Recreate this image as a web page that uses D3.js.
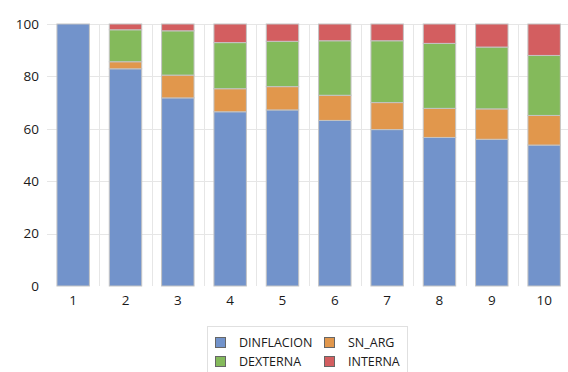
<!DOCTYPE html>
<html>
<head>
<meta charset="utf-8">
<script src="https://cdn.jsdelivr.net/npm/d3@7"></script>
<style>
  body { margin: 0; background: #fff; }
  svg { font-family: "Open Sans", sans-serif; }
</style>
</head>
<body>
<div id="chart"></div>
<script>
// data
var categories = ["1", "2", "3", "4", "5", "6", "7", "8", "9", "10"];
var dinflacion = [100, 82.9, 71.8, 66.5, 67.2, 63.2, 59.7, 56.7, 56.0, 53.8];
var snArg      = [0, 2.7, 8.7, 8.8, 8.9, 9.6, 10.3, 11.1, 11.6, 11.3];
var dexterna   = [0, 12.2, 16.9, 17.6, 17.3, 20.8, 23.6, 24.8, 23.6, 22.9];
var interna    = [0, 2.2, 2.6, 7.1, 6.6, 6.4, 6.4, 7.4, 8.8, 12.0];
var seriesNames = ["DINFLACION", "SN_ARG", "DEXTERNA", "INTERNA"];
var yTicks = [0, 20, 40, 60, 80, 100];

var colors = ["#7293cb", "#e1974c", "#84ba5b", "#d35e60"];

var W = 568, H = 372;
var svg = d3.select('#chart').append('svg')
  .attr('width', W).attr('height', H);

var margins = { top: 24, left: 47, bottom: 86 };
var step = 52.33;
var x = d3.scaleBand()
  .domain(categories)
  .range([margins.left, margins.left + step * categories.length])
  .paddingInner(0.38).paddingOuter(0.19);
var y = d3.scaleLinear().domain([0, 100]).range([H - margins.bottom, margins.top]);

// build table for stack
var table = categories.map(function (c, i) {
  return { cat: c, DINFLACION: dinflacion[i], SN_ARG: snArg[i], DEXTERNA: dexterna[i], INTERNA: interna[i] };
});
var stacked = d3.stack().keys(seriesNames)(table);

// grid
var g = svg.append('g');
g.selectAll('.hgrid').data(yTicks.slice(1)).enter().append('line')
  .attr('x1', margins.left).attr('x2', W)
  .attr('y1', function (d) { return Math.round(y(d)) + 0.5; })
  .attr('y2', function (d) { return Math.round(y(d)) + 0.5; })
  .attr('stroke', '#e6e6e6');
g.selectAll('.vgrid').data(categories.slice(1)).enter().append('line')
  .attr('x1', function (d) { return Math.round(x(d) - x.step() * x.paddingInner() / 2) + 0.5; })
  .attr('x2', function (d) { return Math.round(x(d) - x.step() * x.paddingInner() / 2) + 0.5; })
  .attr('y1', y(100)).attr('y2', y(0))
  .attr('stroke', '#e6e6e6');

// bars
svg.selectAll('.layer').data(stacked).enter().append('g')
  .attr('fill', function (d, i) { return colors[i]; })
  .selectAll('rect').data(function (d) { return d.filter(function (p) { return p[1] - p[0] > 0; }); })
  .enter().append('rect')
    .attr('x', function (d) { return x(d.data.cat); })
    .attr('width', x.bandwidth())
    .attr('y', function (d) { return y(d[1]); })
    .attr('height', function (d) { return y(d[0]) - y(d[1]); })
    .attr('stroke', '#c4c4c4')
    .attr('stroke-width', 1);

// axes text
svg.selectAll('.ylab').data(yTicks).enter().append('text')
  .attr('x', 39).attr('y', function (d) { return y(d); })
  .attr('dy', '0.35em')
  .attr('text-anchor', 'end')
  .attr('font-size', 13.5).attr('fill', '#1a1a1a')
  .text(function (d) { return d; });

svg.selectAll('.xlab').data(categories).enter().append('text')
  .attr('x', function (d) { return x(d) + x.bandwidth() / 2; })
  .attr('y', y(0) + 19)
  .attr('text-anchor', 'middle')
  .attr('font-size', 13.5).attr('fill', '#1a1a1a')
  .text(function (d) { return d; });

// legend
var legend = svg.append('g');
legend.append('rect')
  .attr('x', 207.5).attr('y', 326.5).attr('width', 200).attr('height', 46)
  .attr('fill', '#fff').attr('stroke', '#e0e0e0');
var legendPos = [[215, 337], [324, 337], [215, 356], [324, 356]];
seriesNames.forEach(function (name, i) {
  legend.append('rect')
    .attr('x', legendPos[i][0] + 0.5).attr('y', legendPos[i][1] + 0.5)
    .attr('width', 10).attr('height', 10)
    .attr('fill', colors[i]).attr('stroke', '#666');
  legend.append('text')
    .attr('x', legendPos[i][0] + 24).attr('y', legendPos[i][1] + 5.5)
    .attr('dy', '0.35em')
    .attr('font-size', 12.5).attr('fill', '#1a1a1a')
    .text(name);
});
</script>
</body>
</html>
